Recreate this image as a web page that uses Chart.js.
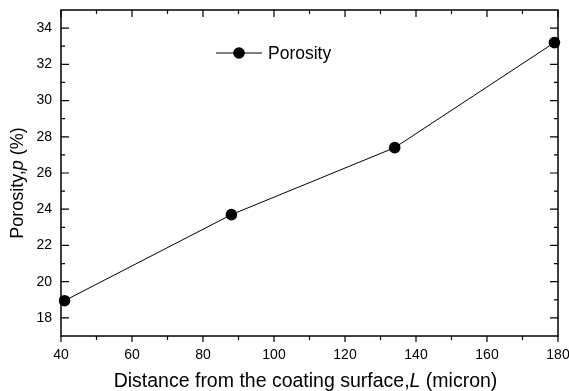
<!DOCTYPE html>
<html>
<head>
<meta charset="utf-8">
<script src="https://cdn.jsdelivr.net/npm/chart.js@4.4.0/dist/chart.umd.min.js"></script>
<style>
html, body { margin: 0; padding: 0; background: #fff; }
</style>
</head>
<body>
<canvas id="porosityChart" width="569" height="391"></canvas>
<script>
// Data
const distance = [41, 88, 134, 179];
const porosity = [18.95, 23.7, 27.4, 33.2];
const xTicks = [40, 60, 80, 100, 120, 140, 160, 180];
const yTicks = [18, 20, 22, 24, 26, 28, 30, 32, 34];
const seriesName = 'Porosity';

const FONT = "'Liberation Sans', Arial, sans-serif";

const canvas = document.getElementById('porosityChart');
const ctx = canvas.getContext('2d');

// midpoints between major ticks -> minor ticks
const minorOf = (ticks) => ticks.slice(1).map((t, i) => (t + ticks[i]) / 2);

// draws the text parts one after another, italic parts where asked
function drawParts(c, parts, size, x, y) {
    let widths = parts.map(p => {
        c.font = (p.italic ? 'italic ' : '') + size + 'px ' + FONT;
        return c.measureText(p.text).width;
    });
    let total = widths.reduce((a, b) => a + b, 0);
    let cx = x - total / 2;
    parts.forEach((p, i) => {
        c.font = (p.italic ? 'italic ' : '') + size + 'px ' + FONT;
        c.fillText(p.text, cx, y);
        cx += widths[i];
    });
}

// no extra room for labels hanging over the ends of the axes
const noOverhang = (s) => {
    s.paddingTop = 0;
    s.paddingBottom = 0;
    s.paddingLeft = 0;
    s.paddingRight = 0;
};

const framePlugin = {
    id: 'frame',
    beforeDatasetsDraw(chart) {
        const { ctx, chartArea: a, scales } = chart;
        const xs = scales.x, ys = scales.y;
        ctx.save();
        ctx.strokeStyle = '#000';
        ctx.lineWidth = 1.5;
        ctx.strokeRect(a.left, a.top, a.right - a.left, a.bottom - a.top);

        ctx.lineWidth = 1.2;
        ctx.beginPath();
        const xt = (v, major) => {
            const px = xs.getPixelForValue(v);
            // bottom: outward, top: inward
            ctx.moveTo(px, a.bottom); ctx.lineTo(px, a.bottom + (major ? 6 : 4));
            ctx.moveTo(px, a.top); ctx.lineTo(px, a.top + (major ? 7 : 4));
        };
        const yt = (v, major) => {
            const py = ys.getPixelForValue(v);
            ctx.moveTo(a.left, py); ctx.lineTo(a.left + (major ? 8 : 4), py);
            ctx.moveTo(a.right, py); ctx.lineTo(a.right - (major ? 8 : 4), py);
        };
        xTicks.forEach(v => xt(v, true));
        minorOf(xTicks).forEach(v => xt(v, false));
        yTicks.forEach(v => yt(v, true));
        minorOf(yTicks).forEach(v => yt(v, false));
        ctx.stroke();
        ctx.restore();
    },
    afterDraw(chart) {
        const { ctx, chartArea: a } = chart;
        const ds = chart.data.datasets[0];
        ctx.save();
        ctx.fillStyle = '#000';
        ctx.textBaseline = 'alphabetic';

        // x title
        drawParts(ctx, [
            { text: 'Distance from the coating surface,' },
            { text: 'L', italic: true },
            { text: ' (micron)' }
        ], 19.5, (a.left + a.right) / 2 - 4, 386.5);

        // y title
        ctx.save();
        ctx.translate(23, 183);
        ctx.rotate(-Math.PI / 2);
        drawParts(ctx, [
            { text: 'Porosity,' },
            { text: 'p', italic: true },
            { text: ' (%)' }
        ], 18, 0, 0);
        ctx.restore();

        // legend
        const ly = a.top + 43;
        const lx = a.left + 155;
        ctx.strokeStyle = ds.borderColor;
        ctx.lineWidth = 1;
        ctx.beginPath();
        ctx.moveTo(lx, ly); ctx.lineTo(lx + 46, ly);
        ctx.stroke();
        ctx.beginPath();
        ctx.arc(lx + 23, ly, ds.pointRadius, 0, Math.PI * 2);
        ctx.fill();
        ctx.font = '17.5px ' + FONT;
        ctx.textBaseline = 'middle';
        ctx.fillText(ds.label, lx + 52, ly + 1);
        ctx.restore();
    }
};

const chart = new Chart(ctx, {
    type: 'line',
    data: {
        datasets: [{
            label: seriesName,
            data: distance.map((d, i) => ({ x: d, y: porosity[i] })),
            borderColor: '#000',
            backgroundColor: '#000',
            borderWidth: 1,
            pointRadius: 5.8,
            pointHoverRadius: 5.8,
            pointBorderWidth: 0,
            tension: 0,
            clip: false
        }]
    },
    options: {
        responsive: false,
        animation: false,
        layout: { padding: { top: 10, right: 11, left: 0, bottom: 0 } },
        plugins: {
            legend: { display: false },
            tooltip: { enabled: false }
        },
        scales: {
            x: {
                type: 'linear',
                min: 40,
                max: 180,
                afterBuildTicks: (s) => { s.ticks = xTicks.map(v => ({ value: v })); },
                afterFit: (s) => { s.height = 55; noOverhang(s); },
                grid: { display: false, drawTicks: false, tickLength: 0 },
                border: { display: false },
                ticks: {
                    color: '#000',
                    padding: 11,
                    maxRotation: 0,
                    font: { family: FONT, size: 14 }
                }
            },
            y: {
                type: 'linear',
                min: 17,
                max: 35,
                afterBuildTicks: (s) => { s.ticks = yTicks.map(v => ({ value: v })); },
                afterFit: (s) => { s.width = 61; noOverhang(s); },
                grid: { display: false, drawTicks: false, tickLength: 0 },
                border: { display: false },
                ticks: {
                    color: '#000',
                    padding: 9,
                    font: { family: FONT, size: 14 }
                }
            }
        }
    },
    plugins: [framePlugin]
});
</script>
</body>
</html>
